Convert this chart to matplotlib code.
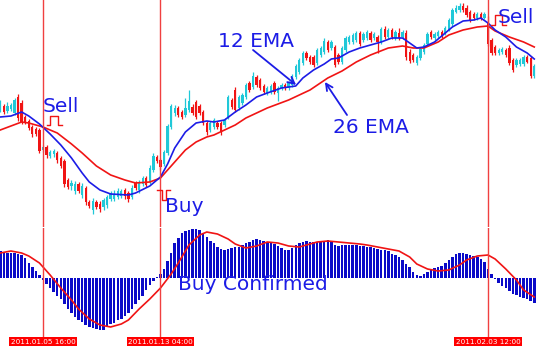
import matplotlib.pyplot as plt
import numpy as np

# EURUSD H4 candles, Jan - Feb 2011
open_ = [1.3350, 1.3370, 1.3345, 1.3355, 1.3335, 1.3415, 1.3385, 1.3315, 1.3295, 1.3265,
         1.3255, 1.3250, 1.3150, 1.3165, 1.3120, 1.3130, 1.3135, 1.3110, 1.3095, 1.3000,
         1.2970, 1.2945, 1.2980, 1.2925, 1.2960, 1.2890, 1.2850, 1.2890, 1.2880, 1.2865,
         1.2875, 1.2905, 1.2905, 1.2915, 1.2920, 1.2950, 1.2935, 1.2915, 1.2985, 1.2950,
         1.2980, 1.3010, 1.2990, 1.3050, 1.3115, 1.3100, 1.3080, 1.3135, 1.3265, 1.3335,
         1.3360, 1.3340, 1.3325, 1.3350, 1.3365, 1.3390, 1.3370, 1.3340, 1.3285, 1.3250,
         1.3265, 1.3285, 1.3285, 1.3275, 1.3315, 1.3400, 1.3450, 1.3360, 1.3385, 1.3415,
         1.3485, 1.3465, 1.3515, 1.3500, 1.3470, 1.3435, 1.3440, 1.3485, 1.3435, 1.3460,
         1.3475, 1.3460, 1.3475, 1.3515, 1.3540, 1.3585, 1.3635, 1.3615, 1.3615, 1.3585,
         1.3625, 1.3640, 1.3690, 1.3660, 1.3665, 1.3625, 1.3590, 1.3650, 1.3690, 1.3690,
         1.3700, 1.3735, 1.3700, 1.3710, 1.3735, 1.3710, 1.3715, 1.3690, 1.3755, 1.3715,
         1.3750, 1.3710, 1.3735, 1.3715, 1.3735, 1.3640, 1.3625, 1.3585, 1.3610, 1.3640,
         1.3680, 1.3740, 1.3710, 1.3720, 1.3740, 1.3735, 1.3750, 1.3780, 1.3840, 1.3850,
         1.3870, 1.3860, 1.3840, 1.3830, 1.3810, 1.3830, 1.3810, 1.3790, 1.3700, 1.3665,
         1.3635, 1.3640, 1.3650, 1.3660, 1.3600, 1.3575, 1.3580, 1.3580, 1.3615, 1.3610,
         1.3520]
close = [1.3385, 1.3340, 1.3370, 1.3375, 1.3400, 1.3310, 1.3290, 1.3290, 1.3260, 1.3230,
         1.3230, 1.3145, 1.3165, 1.3125, 1.3140, 1.3145, 1.3100, 1.3070, 1.2980, 1.2965,
         1.2985, 1.2980, 1.2945, 1.2970, 1.2890, 1.2870, 1.2895, 1.2865, 1.2855, 1.2900,
         1.2915, 1.2935, 1.2930, 1.2945, 1.2945, 1.2920, 1.2905, 1.2960, 1.2960, 1.2990,
         1.3010, 1.2975, 1.3060, 1.3120, 1.3095, 1.3065, 1.3140, 1.3270, 1.3370, 1.3360,
         1.3325, 1.3315, 1.3360, 1.3395, 1.3335, 1.3315, 1.3335, 1.3285, 1.3240, 1.3285,
         1.3300, 1.3265, 1.3240, 1.3300, 1.3415, 1.3365, 1.3350, 1.3415, 1.3425, 1.3475,
         1.3450, 1.3520, 1.3475, 1.3460, 1.3440, 1.3460, 1.3470, 1.3440, 1.3460, 1.3475,
         1.3460, 1.3485, 1.3520, 1.3570, 1.3600, 1.3635, 1.3610, 1.3590, 1.3575, 1.3650,
         1.3660, 1.3695, 1.3650, 1.3690, 1.3575, 1.3590, 1.3660, 1.3710, 1.3715, 1.3725,
         1.3735, 1.3680, 1.3730, 1.3740, 1.3700, 1.3730, 1.3690, 1.3755, 1.3715, 1.3750,
         1.3715, 1.3740, 1.3710, 1.3740, 1.3615, 1.3595, 1.3600, 1.3615, 1.3655, 1.3675,
         1.3730, 1.3715, 1.3730, 1.3740, 1.3720, 1.3760, 1.3800, 1.3850, 1.3860, 1.3870,
         1.3850, 1.3825, 1.3800, 1.3810, 1.3830, 1.3810, 1.3830, 1.3680, 1.3635, 1.3635,
         1.3650, 1.3655, 1.3625, 1.3585, 1.3550, 1.3600, 1.3600, 1.3615, 1.3590, 1.3520,
         1.3570]
high = [1.3400, 1.3380, 1.3390, 1.3385, 1.3410, 1.3430, 1.3400, 1.3325, 1.3305, 1.3275,
        1.3265, 1.3260, 1.3175, 1.3175, 1.3150, 1.3155, 1.3145, 1.3120, 1.3105, 1.3010,
        1.3000, 1.2995, 1.2990, 1.2985, 1.2970, 1.2900, 1.2910, 1.2900, 1.2895, 1.2910,
        1.2925, 1.2945, 1.2950, 1.2960, 1.2955, 1.2960, 1.2945, 1.2975, 1.2995, 1.3000,
        1.3020, 1.3020, 1.3075, 1.3135, 1.3125, 1.3110, 1.3150, 1.3280, 1.3380, 1.3375,
        1.3370, 1.3350, 1.3410, 1.3450, 1.3380, 1.3400, 1.3380, 1.3350, 1.3295, 1.3295,
        1.3310, 1.3295, 1.3295, 1.3310, 1.3425, 1.3410, 1.3465, 1.3425, 1.3435, 1.3485,
        1.3495, 1.3540, 1.3525, 1.3510, 1.3480, 1.3470, 1.3480, 1.3495, 1.3470, 1.3485,
        1.3485, 1.3495, 1.3530, 1.3580, 1.3610, 1.3645, 1.3645, 1.3625, 1.3625, 1.3660,
        1.3670, 1.3710, 1.3700, 1.3700, 1.3675, 1.3635, 1.3670, 1.3720, 1.3725, 1.3735,
        1.3745, 1.3745, 1.3740, 1.3750, 1.3745, 1.3740, 1.3725, 1.3765, 1.3770, 1.3760,
        1.3760, 1.3750, 1.3760, 1.3750, 1.3750, 1.3655, 1.3635, 1.3625, 1.3665, 1.3685,
        1.3740, 1.3750, 1.3740, 1.3750, 1.3750, 1.3770, 1.3810, 1.3860, 1.3875, 1.3885,
        1.3885, 1.3875, 1.3850, 1.3840, 1.3840, 1.3840, 1.3840, 1.3820, 1.3710, 1.3675,
        1.3660, 1.3665, 1.3660, 1.3675, 1.3610, 1.3610, 1.3610, 1.3625, 1.3625, 1.3620,
        1.3580]
low = [1.3340, 1.3330, 1.3335, 1.3345, 1.3325, 1.3295, 1.3280, 1.3280, 1.3250, 1.3215,
       1.3220, 1.3135, 1.3140, 1.3110, 1.3110, 1.3115, 1.3085, 1.3060, 1.2965, 1.2955,
       1.2950, 1.2930, 1.2935, 1.2910, 1.2875, 1.2860, 1.2830, 1.2855, 1.2840, 1.2850,
       1.2860, 1.2895, 1.2895, 1.2905, 1.2910, 1.2905, 1.2890, 1.2905, 1.2950, 1.2935,
       1.2970, 1.2965, 1.2980, 1.3040, 1.3085, 1.3050, 1.3070, 1.3125, 1.3255, 1.3320,
       1.3315, 1.3305, 1.3315, 1.3340, 1.3325, 1.3305, 1.3325, 1.3275, 1.3225, 1.3240,
       1.3255, 1.3255, 1.3225, 1.3265, 1.3305, 1.3355, 1.3340, 1.3350, 1.3375, 1.3405,
       1.3440, 1.3455, 1.3465, 1.3450, 1.3430, 1.3425, 1.3430, 1.3430, 1.3395, 1.3450,
       1.3450, 1.3450, 1.3465, 1.3505, 1.3530, 1.3575, 1.3600, 1.3580, 1.3565, 1.3575,
       1.3615, 1.3630, 1.3640, 1.3650, 1.3565, 1.3580, 1.3580, 1.3640, 1.3680, 1.3680,
       1.3690, 1.3670, 1.3690, 1.3700, 1.3690, 1.3700, 1.3635, 1.3680, 1.3705, 1.3705,
       1.3705, 1.3700, 1.3700, 1.3705, 1.3600, 1.3585, 1.3590, 1.3575, 1.3600, 1.3630,
       1.3670, 1.3705, 1.3700, 1.3710, 1.3710, 1.3725, 1.3745, 1.3770, 1.3835, 1.3840,
       1.3840, 1.3815, 1.3790, 1.3800, 1.3800, 1.3800, 1.3805, 1.3670, 1.3625, 1.3625,
       1.3625, 1.3630, 1.3615, 1.3575, 1.3540, 1.3565, 1.3570, 1.3570, 1.3585, 1.3510,
       1.3510]

# moving averages, read at every few bars
ema12_bar = [0, 3, 6, 8, 11, 14, 17, 20, 23, 25, 28, 31, 36, 38, 42, 45, 47, 49, 52, 55,
             58, 60, 63, 66, 69, 72, 75, 79, 83, 85, 88, 91, 93, 95, 98, 101, 104, 107, 110,
             113, 115, 117, 119, 122, 124, 127, 130, 133, 135, 137, 139, 142, 145, 148, 150]
ema12 = [1.3315, 1.3320, 1.3340, 1.3320, 1.3280, 1.3230, 1.3175, 1.3110, 1.3035, 1.2990,
         1.2950, 1.2930, 1.2925, 1.2935, 1.2970, 1.3015, 1.3080, 1.3160, 1.3240, 1.3285,
         1.3295, 1.3290, 1.3300, 1.3340, 1.3375, 1.3415, 1.3435, 1.3460, 1.3470, 1.3510,
         1.3550, 1.3580, 1.3605, 1.3610, 1.3640, 1.3660, 1.3675, 1.3690, 1.3710,
         1.3710, 1.3685, 1.3660, 1.3665, 1.3690, 1.3720, 1.3765, 1.3795, 1.3800, 1.3810,
         1.3785, 1.3750, 1.3715, 1.3665, 1.3635, 1.3605]
ema26_bar = [0, 6, 8, 12, 16, 20, 23, 27, 31, 35, 38, 42, 45, 49, 52, 55, 58, 60, 63, 66,
             69, 72, 75, 81, 87, 92, 96, 100, 104, 109, 113, 116, 119, 123, 126, 130, 134,
             137, 139, 143, 147, 150]
ema26 = [1.3250, 1.3290, 1.3285, 1.3265, 1.3235, 1.3180, 1.3135, 1.3070, 1.3025, 1.3000,
         1.2985, 1.2990, 1.3010, 1.3090, 1.3150, 1.3190, 1.3215, 1.3225, 1.3250, 1.3275,
         1.3310, 1.3335, 1.3360, 1.3400, 1.3450, 1.3510, 1.3545, 1.3590, 1.3625, 1.3660,
         1.3670, 1.3660, 1.3660, 1.3690, 1.3725, 1.3750, 1.3765, 1.3770, 1.3745, 1.3715,
         1.3690, 1.3665]

# MACD (12, 26) histogram and signal line
macd = [0.0027, 0.0026, 0.0025, 0.0025, 0.0025, 0.0024, 0.0023, 0.0020, 0.0015, 0.0011,
        0.0007, 0.0003, -0.0002, -0.0006, -0.0010, -0.0014, -0.0018, -0.0021, -0.0026, -0.0031,
        -0.0035, -0.0039, -0.0042, -0.0044, -0.0047, -0.0049, -0.0050, -0.0051, -0.0052, -0.0052,
        -0.0049, -0.0046, -0.0045, -0.0042, -0.0041, -0.0038, -0.0035, -0.0031, -0.0026, -0.0022,
        -0.0018, -0.0012, -0.0007, -0.0003, 0.0001, 0.0004, 0.0009, 0.0017, 0.0025, 0.0035,
        0.0040, 0.0045, 0.0047, 0.0048, 0.0049, 0.0049, 0.0048, 0.0045, 0.0041, 0.0037,
        0.0035, 0.0031, 0.0029, 0.0028, 0.0029, 0.0030, 0.0031, 0.0031, 0.0033, 0.0035,
        0.0036, 0.0038, 0.0039, 0.0038, 0.0037, 0.0036, 0.0036, 0.0034, 0.0032, 0.0030,
        0.0028, 0.0028, 0.0030, 0.0033, 0.0035, 0.0036, 0.0037, 0.0036, 0.0036, 0.0036,
        0.0037, 0.0037, 0.0038, 0.0036, 0.0033, 0.0032, 0.0033, 0.0033, 0.0033, 0.0033,
        0.0033, 0.0032, 0.0032, 0.0031, 0.0031, 0.0030, 0.0029, 0.0028, 0.0028, 0.0027,
        0.0024, 0.0023, 0.0021, 0.0018, 0.0014, 0.0011, 0.0006, 0.0003, 0.0002, 0.0004,
        0.0006, 0.0008, 0.0010, 0.0011, 0.0012, 0.0015, 0.0018, 0.0021, 0.0024, 0.0025,
        0.0025, 0.0024, 0.0023, 0.0022, 0.0021, 0.0019, 0.0016, 0.0009, 0.0004, -0.0001,
        -0.0005, -0.0008, -0.0010, -0.0013, -0.0016, -0.0017, -0.0019, -0.0020, -0.0021, -0.0023,
        -0.0025]
signal_bar = [0, 3, 6, 8, 11, 14, 17, 20, 22, 25, 28, 31, 34, 36, 39, 42, 45, 48, 50, 53,
              56, 58, 61, 64, 66, 69, 72, 75, 78, 81, 84, 86, 89, 92, 95, 98, 101, 103, 106,
              109, 112, 115, 117, 120, 123, 126, 129, 131, 134, 137, 139, 142, 145, 147, 150]
signal = [0.0025, 0.0027, 0.0025, 0.0022, 0.0015, 0.0003, -0.0010, -0.0022, -0.0031, -0.0041,
          -0.0047, -0.0049, -0.0046, -0.0042, -0.0031, -0.0021, -0.0010, 0.0004, 0.0015, 0.0033,
          0.0043, 0.0046, 0.0044, 0.0039, 0.0034, 0.0030, 0.0032, 0.0036, 0.0035, 0.0032,
          0.0031, 0.0033, 0.0036, 0.0037, 0.0036, 0.0035, 0.0034, 0.0033, 0.0031,
          0.0029, 0.0027, 0.0021, 0.0014, 0.0009, 0.0007, 0.0008, 0.0013, 0.0018, 0.0022,
          0.0023, 0.0019, 0.0009, -0.0002, -0.0012, -0.0019]

event_bar = [12, 45, 137]
event_time = ["2011.01.05 16:00", "2011.01.13 04:00", "2011.02.03 12:00"]

blue = '#1c1ce6'
red = '#f01414'
cyan = '#20c8d8'

fig = plt.figure(figsize=(5.38, 3.49), dpi=100)
ax = fig.add_axes([0, 0.3496, 1, 0.6504])
ax2 = fig.add_axes([0, 0, 1, 0.3467])

x = np.arange(len(close))
o = np.array(open_)
c = np.array(close)
cols = np.where(c >= o, cyan, red)

# candles
ax.vlines(x, low, high, colors=cols, lw=0.9)
ax.bar(x, np.maximum(np.abs(c - o), 0.0003), bottom=np.minimum(o, c),
       width=0.65, color=cols, linewidth=0)

ax.plot(ema26_bar, ema26, color=red, lw=1.2)
ax.plot(ema12_bar, ema12, color=blue, lw=1.2)

for b in event_bar:
    ax.axvline(b, color='#f04040', lw=1)

# signal markers
ax.plot([13.1, 14.0, 14.0, 16.2, 16.2, 17.3],
        [1.3275, 1.3275, 1.3320, 1.3320, 1.3275, 1.3275], color=red, lw=1)
ax.plot([44.0, 45.4, 45.4, 46.6, 46.6, 47.7],
        [1.2950, 1.2950, 1.2900, 1.2900, 1.2950, 1.2950], color=red, lw=1)
ax.plot([137.8, 139.0, 139.0, 140.9, 140.9, 142.1],
        [1.3775, 1.3775, 1.3825, 1.3825, 1.3775, 1.3775], color=red, lw=1)

ax.text(12.0, 1.3340, 'Sell', color=blue, fontsize=14.5, va='baseline')
ax.text(46.3, 1.2840, 'Buy', color=blue, fontsize=14.5, va='baseline')
ax.text(139.8, 1.3785, 'Sell', color=blue, fontsize=14.5, va='baseline')
ax.text(61.2, 1.3665, '12 EMA', color=blue, fontsize=14.5, va='baseline')
ax.text(93.5, 1.3235, '26 EMA', color=blue, fontsize=14.5, va='baseline')

ax.annotate('', xy=(83.1, 1.3475), xytext=(71.0, 1.3650),
            arrowprops=dict(arrowstyle='->', color=blue, lw=1.3,
                            shrinkA=0, shrinkB=0, mutation_scale=12))
ax.annotate('', xy=(91.2, 1.3490), xytext=(97.4, 1.3325),
            arrowprops=dict(arrowstyle='->', color=blue, lw=1.3,
                            shrinkA=0, shrinkB=0, mutation_scale=12))

ax.set_xlim(-0.08, 151.05)
ax.set_ylim(1.2765, 1.39)
ax.axis('off')

# MACD panel
ax2.bar(x, macd, width=0.7, color='#0a0ac8', linewidth=0)
ax2.plot(signal_bar, signal, color=red, lw=1.2)
ax2.vlines(event_bar, -0.0059, 0.0051, color='#f04040', lw=1)
ax2.text(49.9, -0.0012, 'Buy Confirmed', color=blue, fontsize=14.5, va='baseline')
for b, t in zip(event_bar, event_time):
    ax2.text(b, -0.00635, t, ha='center', va='center', fontsize=5.2, color='white',
             bbox=dict(boxstyle='square,pad=0.2', fc='#ff0000', ec='none'))
ax2.set_xlim(-0.08, 151.05)
ax2.set_ylim(-0.0071, 0.0050)
ax2.axis('off')

fig.savefig('out.png', dpi=100, facecolor='white')
